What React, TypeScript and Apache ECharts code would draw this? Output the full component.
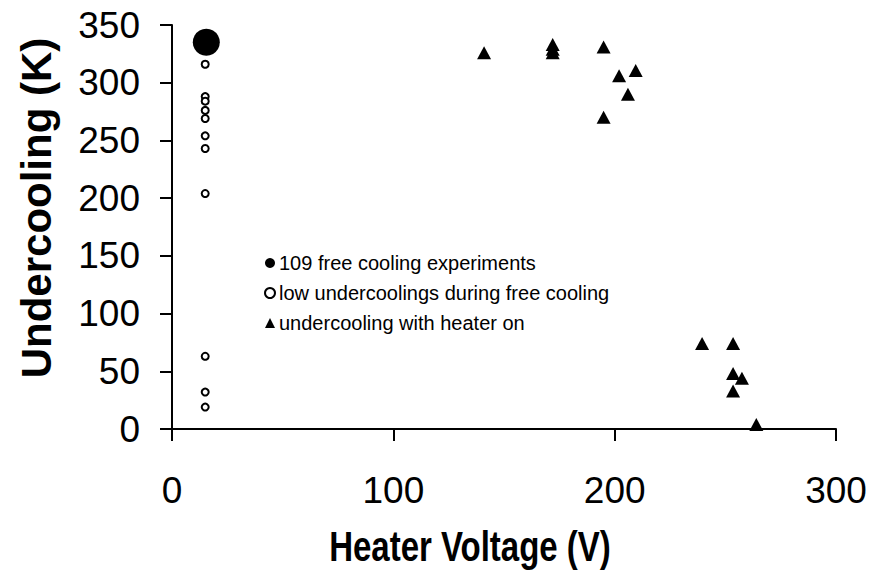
import React, { useEffect, useRef } from "react";
import * as echarts from "echarts";

const xTicks = [0, 100, 200, 300];
const yTicks = [0, 50, 100, 150, 200, 250, 300, 350];
const xTitle = "Heater Voltage (V)";
const yTitle = "Undercooling (K)";
const seriesNames = [
  "109 free cooling experiments",
  "low undercoolings during free cooling",
  "undercooling with heater on",
];
const bigCircle = [[15.5, 335]];
const openCircles = [
  [15, 316], [15, 288], [15, 284], [15, 276], [15, 269], [15, 254], [15, 243],
  [15, 204], [15, 63], [15, 32], [15, 19],
];
const triangles = [
  [141, 326], [172, 333], [172, 329], [172, 326], [195, 331], [202, 306],
  [209.5, 310.5], [206, 290], [195, 270], [239.5, 74], [253.5, 74],
  [253.5, 48], [257.5, 44], [253.5, 33], [264, 4],
];

const FONT = "'Liberation Sans', Arial, sans-serif";

export default function App() {
  const ref = useRef<HTMLDivElement>(null);
  useEffect(() => {
    if (!ref.current) return;
    const chart = echarts.init(ref.current, undefined, { renderer: "svg" });
    chart.setOption({
      animation: false,
      backgroundColor: "#ffffff",
      textStyle: { fontFamily: FONT, color: "#000" },
      grid: { left: 172, top: 25, right: 36, bottom: 150, containLabel: false },
      legend: {
        orient: "vertical",
        left: 259,
        top: 248,
        itemWidth: 10,
        itemHeight: 10,
        itemGap: 10,
        textStyle: { fontFamily: FONT, fontSize: 20, color: "#000", padding: [0, 0, 0, -1] },
        data: [
          { name: seriesNames[0], icon: "circle" },
          { name: seriesNames[1], icon: "circle" },
          { name: seriesNames[2], icon: "triangle" },
        ],
      },
      graphic: [
        {
          type: "text",
          x: 470,
          y: 547,
          scaleY: 1.28,
          style: {
            text: xTitle,
            fontFamily: FONT,
            fontSize: 33,
            fontWeight: "bold",
            fill: "#000",
            align: "center",
            verticalAlign: "middle",
          },
        },
        {
          type: "text",
          x: 36,
          y: 208,
          rotation: Math.PI / 2,
          style: {
            text: yTitle,
            fontFamily: FONT,
            fontSize: 42,
            fontWeight: "bold",
            fill: "#000",
            align: "center",
            verticalAlign: "middle",
          },
        },
      ],
      xAxis: {
        type: "value",
        min: xTicks[0],
        max: xTicks[xTicks.length - 1],
        interval: 100,
        axisLine: { show: true, lineStyle: { color: "#000", width: 2 } },
        axisTick: { show: true, length: 12, lineStyle: { color: "#000", width: 2 } },
        axisLabel: { fontFamily: FONT, fontSize: 37, color: "#000", margin: 43 },
        splitLine: { show: false },
      },
      yAxis: {
        type: "value",
        min: yTicks[0],
        max: yTicks[yTicks.length - 1],
        interval: 50,
        axisLine: { show: true, lineStyle: { color: "#000", width: 2 } },
        axisTick: { show: true, length: 12, lineStyle: { color: "#000", width: 2 } },
        axisLabel: { fontFamily: FONT, fontSize: 37, color: "#000", margin: 32 },
        splitLine: { show: false },
      },
      series: [
        {
          name: seriesNames[0],
          type: "scatter",
          data: bigCircle,
          symbol: "circle",
          symbolSize: 27,
          itemStyle: { color: "#000", opacity: 1 },
          z: 2,
        },
        {
          name: seriesNames[1],
          type: "scatter",
          data: openCircles,
          symbol: "circle",
          symbolSize: 7,
          itemStyle: { color: "#fff", borderColor: "#000", borderWidth: 2, opacity: 1 },
          z: 3,
        },
        {
          name: seriesNames[2],
          type: "scatter",
          data: triangles,
          symbol: "triangle",
          symbolSize: [14, 13],
          itemStyle: { color: "#000", opacity: 1 },
          z: 3,
        },
      ],
    });
    return () => chart.dispose();
  }, []);
  return (
    <div
      ref={ref}
      style={{ position: "fixed", left: 0, top: 0, width: 872, height: 579, background: "#fff" }}
    />
  );
}
